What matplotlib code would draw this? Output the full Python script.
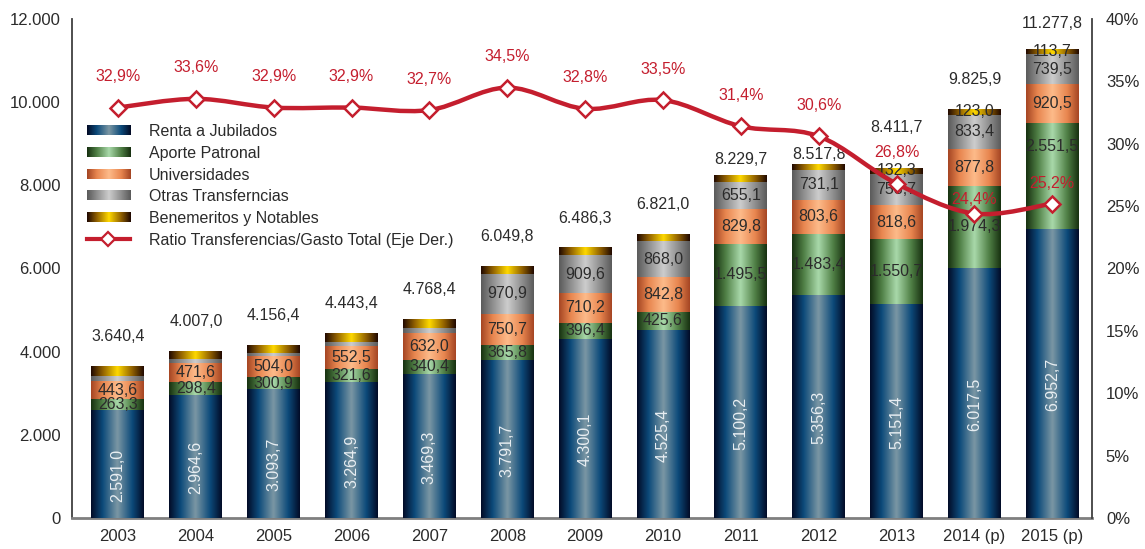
import numpy as np
import matplotlib.pyplot as plt
from matplotlib.colors import LinearSegmentedColormap
from matplotlib.path import Path
from matplotlib.patches import PathPatch, Patch
from matplotlib.lines import Line2D
from matplotlib.legend_handler import HandlerBase
from matplotlib.image import BboxImage
from matplotlib.transforms import Bbox, TransformedBbox

years = ['2003', '2004', '2005', '2006', '2007', '2008', '2009', '2010',
         '2011', '2012', '2013', '2014 (p)', '2015 (p)']
renta = [2591.0, 2964.6, 3093.7, 3264.9, 3469.3, 3791.7, 4300.1, 4525.4,
         5100.2, 5356.3, 5151.4, 6017.5, 6952.7]
aporte = [263.3, 298.4, 300.9, 321.6, 340.4, 365.8, 396.4, 425.6,
          1495.5, 1483.4, 1550.7, 1974.3, 2551.5]
univ = [443.6, 471.6, 504.0, 552.5, 632.0, 750.7, 710.2, 842.8,
        829.8, 803.6, 818.6, 877.8, 920.5]
otras = [120.0, 90.0, 80.0, 100.0, 120.0, 970.9, 909.6, 868.0,
         655.1, 731.1, 758.7, 833.4, 739.5]
benem = [223.5, 182.4, 177.8, 204.4, 206.7, 170.7, 170.0, 159.2,
         149.1, 143.4, 132.3, 123.0, 113.7]
totales = [3640.4, 4007.0, 4156.4, 4443.4, 4768.4, 6049.8, 6486.3, 6821.0,
           8229.7, 8517.8, 8411.7, 9825.9, 11277.8]
ratio = [32.9, 33.6, 32.9, 32.9, 32.7, 34.5, 32.8, 33.5, 31.4, 30.6, 26.8, 24.4, 25.2]

# which segment labels are shown
show_otras = [False] * 5 + [True] * 8
show_benem = [False] * 10 + [True] * 3

# label nudges (pixels above the anchor), where the original moved them
total_dy = {8: 16, 9: 9, 10: 41, 12: 26}
ratio_dy = {11: 14, 12: 20}
aporte_dy = {12: 29}

plt.rcParams['font.family'] = ['Liberation Sans Narrow', 'Liberation Sans', 'DejaVu Sans']

red = '#c41e2e'
txt = '#2b2b2b'
px = 0.72  # points per pixel at dpi 100


def es(v, dec=1):
    s = f'{v:,.{dec}f}'
    return s.replace(',', 'X').replace('.', ',').replace('X', '.')


def cmap_cyl(name, edge, mid, light):
    return LinearSegmentedColormap.from_list(
        name, [(0, edge), (0.22, mid), (0.5, light), (0.78, mid), (1, edge)])


cmaps = [cmap_cyl('renta', '#020b26', '#0c4a7a', '#7b97a4'),
         cmap_cyl('aporte', '#173010', '#4f7f45', '#a9d9aa'),
         cmap_cyl('univ', '#a44523', '#e8864f', '#fdbb8a'),
         cmap_cyl('otras', '#5a5a5a', '#8e8e8e', '#cdcdcd'),
         cmap_cyl('benem', '#200800', '#906000', '#ffd900')]
names = ['Renta a Jubilados', 'Aporte Patronal', 'Universidades',
         'Otras Transferncias', 'Benemeritos y Notables']
series = [renta, aporte, univ, otras, benem]

fig = plt.figure(figsize=(11.45, 5.49), dpi=100)
ax = fig.add_axes([0.0629, 0.0565, 0.8908, 0.9089])
x = np.arange(len(years))
w = 0.68

grad = np.linspace(0, 1, 256).reshape(1, -1)
bottom = np.zeros(len(years))
all_bars = []
for vals, cm in zip(series, cmaps):
    bars = ax.bar(x, vals, w, bottom=bottom, color=cm(0.5), linewidth=0, zorder=2)
    for b in bars:
        x0, y0 = b.get_x(), b.get_y()
        ax.imshow(grad, cmap=cm, aspect='auto', interpolation='bicubic',
                  extent=[x0, x0 + b.get_width(), y0, y0 + b.get_height()], zorder=3)
    all_bars.append(bars)
    bottom = bottom + np.array(vals)

ax.set_xlim(-0.59, 12.51)
ax.set_ylim(0, 12000)

# segment labels
for i in range(len(years)):
    b = all_bars[0][i]
    ax.annotate(es(renta[i]), (i, b.get_y() + b.get_height() / 2), xytext=(0, -8),
                textcoords='offset points', rotation=90, ha='center', va='center',
                color='#e8eef2', fontsize=11.5, zorder=5)
    for k, vals in enumerate(series[1:], start=1):
        if k == 3 and not show_otras[i]:
            continue
        if k == 4 and not show_benem[i]:
            continue
        dy = aporte_dy.get(i, 0) if k == 1 else 0
        b = all_bars[k][i]
        ax.annotate(es(vals[i]), (i, b.get_y() + b.get_height() / 2), xytext=(0, dy * px),
                    textcoords='offset points', ha='center', va='center',
                    color=txt, fontsize=11.5, zorder=5)
    ax.annotate(es(totales[i]), (i, totales[i]), xytext=(0, total_dy.get(i, 30) * px),
                textcoords='offset points', ha='center', va='center', color=txt,
                fontsize=11.5, zorder=5)

ax.set_xticks(x)
ax.set_xticklabels(years)
yt = np.arange(0, 12001, 2000)
ax.set_yticks(yt)
ax.set_yticklabels([es(v, 0) for v in yt])
ax.tick_params(length=0, labelsize=12, colors=txt, pad=8)
ax.spines['top'].set_visible(False)
ax.spines['right'].set_visible(False)
ax.spines['left'].set_color('#404040')
ax.spines['left'].set_linewidth(1.3)
ax.spines['bottom'].set_color('#7f7f7f')
ax.spines['bottom'].set_linewidth(2)

# ratio on right axis, smoothed with bezier segments
ax2 = ax.twinx()
ax2.set_ylim(0, 40)
ax2.set_xlim(-0.59, 12.51)
pts = np.column_stack([x, ratio]).astype(float)
verts = [pts[0]]
codes = [Path.MOVETO]
n = len(pts)
for i in range(n - 1):
    p0 = pts[max(i - 1, 0)]
    p1 = pts[i]
    p2 = pts[i + 1]
    p3 = pts[min(i + 2, n - 1)]
    verts += [p1 + (p2 - p0) / 6, p2 - (p3 - p1) / 6, p2]
    codes += [Path.CURVE4] * 3
ax2.add_patch(PathPatch(Path(verts, codes), fill=False, edgecolor=red, lw=3.2,
                        capstyle='round', zorder=4))
ax2.plot(x, ratio, linestyle='none', marker='D', ms=8, mfc='white', mec=red, mew=1.8, zorder=5)
for i, r in enumerate(ratio):
    ax2.annotate(f'{r:.1f}%'.replace('.', ','), (i, r), xytext=(0, ratio_dy.get(i, 31) * px),
                 textcoords='offset points', ha='center', va='center', color=red, fontsize=11.5)
yt2 = np.arange(0, 41, 5)
ax2.set_yticks(yt2)
ax2.set_yticklabels([f'{v}%' for v in yt2])
ax2.tick_params(length=0, labelsize=12, colors=txt, pad=10)
ax2.spines['top'].set_visible(False)
ax2.spines['left'].set_visible(False)
ax2.spines['bottom'].set_visible(False)
ax2.spines['right'].set_color('#404040')
ax2.spines['right'].set_linewidth(1.3)


class GradHandler(HandlerBase):
    def __init__(self, cm):
        super().__init__()
        self.cm = cm

    def create_artists(self, legend, orig_handle, xdescent, ydescent, width, height,
                       fontsize, trans):
        bb = Bbox.from_bounds(-xdescent, -ydescent + height * 0.1, width, height * 0.8)
        img = BboxImage(TransformedBbox(bb, trans), cmap=self.cm, interpolation='bicubic')
        img.set_data(np.linspace(0, 1, 100).reshape(1, -1))
        img.set_clim(0, 1)
        return [img]


handles = [Patch(label=nm) for nm in names]
hmap = {h: GradHandler(cm) for h, cm in zip(handles, cmaps)}
line_h = Line2D([], [], color=red, lw=3, marker='D', ms=7, mfc='white', mec=red, mew=1.6)
handles.append(line_h)
labels = names + ['Ratio Transferencias/Gasto Total (Eje Der.)']
leg = ax2.legend(handles, labels, handler_map=hmap, loc='upper left',
                 bbox_to_anchor=(0.008, 0.802), frameon=False, fontsize=11.5,
                 handlelength=2.7, handleheight=0.75, labelspacing=0.42, handletextpad=1.2,
                 borderaxespad=0)
for t in leg.get_texts():
    t.set_color(txt)

fig.savefig('out.png', dpi=100)
